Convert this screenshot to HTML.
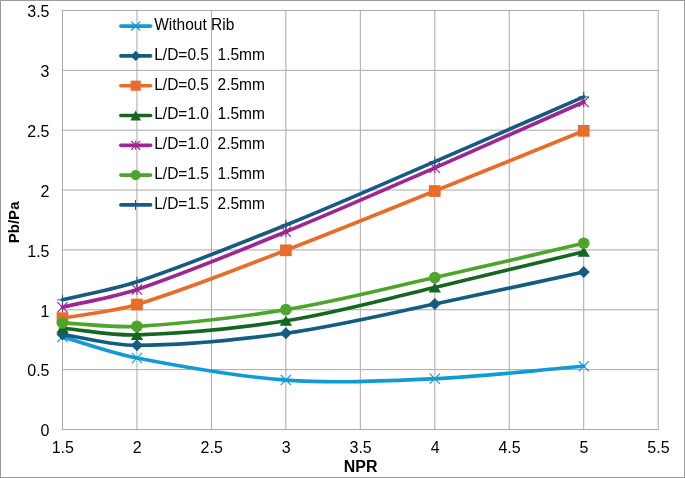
<!DOCTYPE html>
<html><head><meta charset="utf-8"><style>
html,body{margin:0;padding:0;background:#fff;width:685px;height:478px;overflow:hidden}
.t{font-family:"Liberation Sans",sans-serif;font-size:16px;fill:#000}
.b{font-family:"Liberation Sans",sans-serif;font-size:15.6px;font-weight:bold;fill:#000}
</style></head><body>
<svg width="685" height="478" viewBox="0 0 685 478" style="position:absolute;left:0;top:0;will-change:transform">
<rect x="0.5" y="0.5" width="684" height="477" fill="#fff" stroke="#9b9b9b" stroke-width="1"/>
<path d="M62.00,429.50H658.68 M62.00,369.64H658.68 M62.00,309.79H658.68 M62.00,249.93H658.68 M62.00,190.07H658.68 M62.00,130.22H658.68 M62.00,70.36H658.68 M62.00,10.50H658.68 M62.50,10.00V430.00 M136.96,10.00V430.00 M211.42,10.00V430.00 M285.88,10.00V430.00 M360.34,10.00V430.00 M434.80,10.00V430.00 M509.26,10.00V430.00 M583.72,10.00V430.00 M658.18,10.00V430.00" stroke="#a8a8a8" stroke-width="1" fill="none"/>
<text transform="translate(49.5,436.30) scale(1.0,1)" text-anchor="end" class="t">0</text>
<text transform="translate(49.5,376.44) scale(1.0,1)" text-anchor="end" class="t">0.5</text>
<text transform="translate(49.5,316.59) scale(1.0,1)" text-anchor="end" class="t">1</text>
<text transform="translate(49.5,256.73) scale(1.0,1)" text-anchor="end" class="t">1.5</text>
<text transform="translate(49.5,196.87) scale(1.0,1)" text-anchor="end" class="t">2</text>
<text transform="translate(49.5,137.02) scale(1.0,1)" text-anchor="end" class="t">2.5</text>
<text transform="translate(49.5,77.16) scale(1.0,1)" text-anchor="end" class="t">3</text>
<text transform="translate(49.5,17.30) scale(1.0,1)" text-anchor="end" class="t">3.5</text>
<text transform="translate(62.80,452.8) scale(1.0,1)" text-anchor="middle" class="t">1.5</text>
<text transform="translate(137.26,452.8) scale(1.0,1)" text-anchor="middle" class="t">2</text>
<text transform="translate(211.72,452.8) scale(1.0,1)" text-anchor="middle" class="t">2.5</text>
<text transform="translate(286.18,452.8) scale(1.0,1)" text-anchor="middle" class="t">3</text>
<text transform="translate(360.64,452.8) scale(1.0,1)" text-anchor="middle" class="t">3.5</text>
<text transform="translate(435.10,452.8) scale(1.0,1)" text-anchor="middle" class="t">4</text>
<text transform="translate(509.56,452.8) scale(1.0,1)" text-anchor="middle" class="t">4.5</text>
<text transform="translate(584.02,452.8) scale(1.0,1)" text-anchor="middle" class="t">5</text>
<text transform="translate(658.48,452.8) scale(1.0,1)" text-anchor="middle" class="t">5.5</text>
<text transform="translate(360.6,471.6) scale(1.02,1)" text-anchor="middle" class="b">NPR</text>
<text transform="translate(18.8,222.4) rotate(-90) scale(1.045,1)" text-anchor="middle" class="b" style="font-size:14.4px">Pb/Pa</text>
<path d="M62.50,336.96 C87.32,343.98 111.68,353.15 136.96,358.03 C186.14,367.52 235.97,376.59 285.88,380.06 C335.25,383.49 385.25,381.03 434.80,378.74 C484.53,376.44 534.08,370.44 583.72,366.29" stroke="#129ad5" stroke-width="3.65" fill="none" stroke-linecap="round" stroke-linejoin="round"/>
<path d="M62.50,334.45 C87.32,338.08 112.02,345.47 136.96,345.34 C186.48,345.08 236.63,340.08 285.88,333.25 C335.91,326.31 385.25,314.24 434.80,304.04 C484.53,293.80 534.08,282.65 583.72,271.96" stroke="#135d80" stroke-width="3.65" fill="none" stroke-linecap="round" stroke-linejoin="round"/>
<path d="M62.50,318.17 C87.32,313.62 112.89,311.83 136.96,304.52 C187.35,289.21 236.52,269.10 285.88,250.29 C335.80,231.27 385.22,210.92 434.80,191.03 C484.50,171.10 534.08,150.89 583.72,130.81" stroke="#e86c2a" stroke-width="3.65" fill="none" stroke-linecap="round" stroke-linejoin="round"/>
<path d="M62.50,328.22 C87.32,330.46 112.15,335.75 136.96,334.93 C186.61,333.28 236.73,328.62 285.88,320.80 C336.01,312.82 385.25,299.01 434.80,287.52 C484.53,275.99 534.08,263.66 583.72,251.72" stroke="#156620" stroke-width="3.65" fill="none" stroke-linecap="round" stroke-linejoin="round"/>
<path d="M62.50,307.27 C87.32,301.37 112.84,297.71 136.96,289.55 C187.30,272.53 236.60,251.88 285.88,231.73 C335.88,211.30 385.28,189.38 434.80,167.81 C484.56,146.13 534.08,123.91 583.72,101.96" stroke="#9d2694" stroke-width="3.65" fill="none" stroke-linecap="round" stroke-linejoin="round"/>
<path d="M62.50,322.83 C87.32,323.99 112.22,327.76 136.96,326.31 C186.68,323.38 236.65,317.72 285.88,309.67 C335.93,301.48 385.24,288.64 434.80,277.58 C484.52,266.49 534.08,254.68 583.72,243.23" stroke="#4ea52d" stroke-width="3.65" fill="none" stroke-linecap="round" stroke-linejoin="round"/>
<path d="M62.50,299.85 C87.32,293.84 112.79,289.93 136.96,281.83 C187.25,264.99 236.62,244.92 285.88,225.03 C335.90,204.83 385.23,182.90 434.80,161.58 C484.51,140.20 534.08,118.48 583.72,96.93" stroke="#175c80" stroke-width="3.65" fill="none" stroke-linecap="round" stroke-linejoin="round"/>
<path d="M57.40,331.86L67.60,342.06M67.60,331.86L57.40,342.06" stroke="#129ad5" stroke-width="1.2" fill="none"/>
<path d="M131.86,352.93L142.06,363.13M142.06,352.93L131.86,363.13" stroke="#129ad5" stroke-width="1.2" fill="none"/>
<path d="M280.78,374.96L290.98,385.16M290.98,374.96L280.78,385.16" stroke="#129ad5" stroke-width="1.2" fill="none"/>
<path d="M429.70,373.64L439.90,383.84M439.90,373.64L429.70,383.84" stroke="#129ad5" stroke-width="1.2" fill="none"/>
<path d="M578.62,361.19L588.82,371.39M588.82,361.19L578.62,371.39" stroke="#129ad5" stroke-width="1.2" fill="none"/>
<path d="M62.50,328.45L68.50,334.45L62.50,340.45L56.50,334.45Z" fill="#135d80"/>
<path d="M136.96,339.34L142.96,345.34L136.96,351.34L130.96,345.34Z" fill="#135d80"/>
<path d="M285.88,327.25L291.88,333.25L285.88,339.25L279.88,333.25Z" fill="#135d80"/>
<path d="M434.80,298.04L440.80,304.04L434.80,310.04L428.80,304.04Z" fill="#135d80"/>
<path d="M583.72,265.96L589.72,271.96L583.72,277.96L577.72,271.96Z" fill="#135d80"/>
<rect x="56.65" y="312.32" width="11.70" height="11.70" fill="#e86c2a"/>
<rect x="131.11" y="298.67" width="11.70" height="11.70" fill="#e86c2a"/>
<rect x="280.03" y="244.44" width="11.70" height="11.70" fill="#e86c2a"/>
<rect x="428.95" y="185.18" width="11.70" height="11.70" fill="#e86c2a"/>
<rect x="577.87" y="124.96" width="11.70" height="11.70" fill="#e86c2a"/>
<path d="M62.50,323.22L68.70,333.22L56.30,333.22Z" fill="#156620"/>
<path d="M136.96,329.93L143.16,339.93L130.76,339.93Z" fill="#156620"/>
<path d="M285.88,315.80L292.08,325.80L279.68,325.80Z" fill="#156620"/>
<path d="M434.80,282.52L441.00,292.52L428.60,292.52Z" fill="#156620"/>
<path d="M583.72,246.72L589.92,256.72L577.52,256.72Z" fill="#156620"/>
<path d="M57.40,302.17L67.60,312.37M67.60,302.17L57.40,312.37M62.50,302.17L62.50,312.37" stroke="#9d2694" stroke-width="1.2" fill="none"/>
<path d="M131.86,284.45L142.06,294.65M142.06,284.45L131.86,294.65M136.96,284.45L136.96,294.65" stroke="#9d2694" stroke-width="1.2" fill="none"/>
<path d="M280.78,226.63L290.98,236.83M290.98,226.63L280.78,236.83M285.88,226.63L285.88,236.83" stroke="#9d2694" stroke-width="1.2" fill="none"/>
<path d="M429.70,162.71L439.90,172.91M439.90,162.71L429.70,172.91M434.80,162.71L434.80,172.91" stroke="#9d2694" stroke-width="1.2" fill="none"/>
<path d="M578.62,96.86L588.82,107.06M588.82,96.86L578.62,107.06M583.72,96.86L583.72,107.06" stroke="#9d2694" stroke-width="1.2" fill="none"/>
<circle cx="62.50" cy="322.83" r="5.85" fill="#4ea52d"/>
<circle cx="136.96" cy="326.31" r="5.85" fill="#4ea52d"/>
<circle cx="285.88" cy="309.67" r="5.85" fill="#4ea52d"/>
<circle cx="434.80" cy="277.58" r="5.85" fill="#4ea52d"/>
<circle cx="583.72" cy="243.23" r="5.85" fill="#4ea52d"/>
<path d="M57.30,299.85L67.70,299.85M62.50,294.65L62.50,305.05" stroke="#175c80" stroke-width="1" fill="none"/>
<path d="M131.76,281.83L142.16,281.83M136.96,276.63L136.96,287.03" stroke="#175c80" stroke-width="1" fill="none"/>
<path d="M280.68,225.03L291.08,225.03M285.88,219.83L285.88,230.23" stroke="#175c80" stroke-width="1" fill="none"/>
<path d="M429.60,161.58L440.00,161.58M434.80,156.38L434.80,166.78" stroke="#175c80" stroke-width="1" fill="none"/>
<path d="M578.52,96.93L588.92,96.93M583.72,91.73L583.72,102.13" stroke="#175c80" stroke-width="1" fill="none"/>
<path d="M120.9,26.10H150.6" stroke="#129ad5" stroke-width="3.65" stroke-linecap="round"/>
<path d="M131.26,21.66L140.14,30.54M140.14,21.66L131.26,30.54" stroke="#129ad5" stroke-width="1.2" fill="none"/>
<text transform="translate(154.2,29.90) scale(0.97,1)" class="t" xml:space="preserve">Without Rib</text>
<path d="M120.9,55.90H150.6" stroke="#135d80" stroke-width="3.65" stroke-linecap="round"/>
<path d="M135.70,50.68L140.92,55.90L135.70,61.12L130.48,55.90Z" fill="#135d80"/>
<text transform="translate(154.2,59.70) scale(0.97,1)" class="t" xml:space="preserve">L/D=0.5  1.5mm</text>
<path d="M120.9,85.70H150.6" stroke="#e86c2a" stroke-width="3.65" stroke-linecap="round"/>
<rect x="130.61" y="80.61" width="10.18" height="10.18" fill="#e86c2a"/>
<text transform="translate(154.2,89.50) scale(0.97,1)" class="t" xml:space="preserve">L/D=0.5  2.5mm</text>
<path d="M120.9,115.50H150.6" stroke="#156620" stroke-width="3.65" stroke-linecap="round"/>
<path d="M135.70,110.40L141.09,120.60L130.31,120.60Z" fill="#156620"/>
<text transform="translate(154.2,119.30) scale(0.97,1)" class="t" xml:space="preserve">L/D=1.0  1.5mm</text>
<path d="M120.9,145.30H150.6" stroke="#9d2694" stroke-width="3.65" stroke-linecap="round"/>
<path d="M131.26,140.86L140.14,149.74M140.14,140.86L131.26,149.74M135.70,140.86L135.70,149.74" stroke="#9d2694" stroke-width="1.2" fill="none"/>
<text transform="translate(154.2,149.10) scale(0.97,1)" class="t" xml:space="preserve">L/D=1.0  2.5mm</text>
<path d="M120.9,175.10H150.6" stroke="#4ea52d" stroke-width="3.65" stroke-linecap="round"/>
<circle cx="135.70" cy="175.10" r="5.09" fill="#4ea52d"/>
<text transform="translate(154.2,178.90) scale(0.97,1)" class="t" xml:space="preserve">L/D=1.5  1.5mm</text>
<path d="M120.9,204.90H150.6" stroke="#175c80" stroke-width="3.65" stroke-linecap="round"/>
<path d="M130.50,204.90L140.50,204.90M135.50,199.90L135.50,209.90" stroke="#175c80" stroke-width="1" fill="none"/>
<text transform="translate(154.2,208.70) scale(0.97,1)" class="t" xml:space="preserve">L/D=1.5  2.5mm</text>
</svg>
</body></html>
